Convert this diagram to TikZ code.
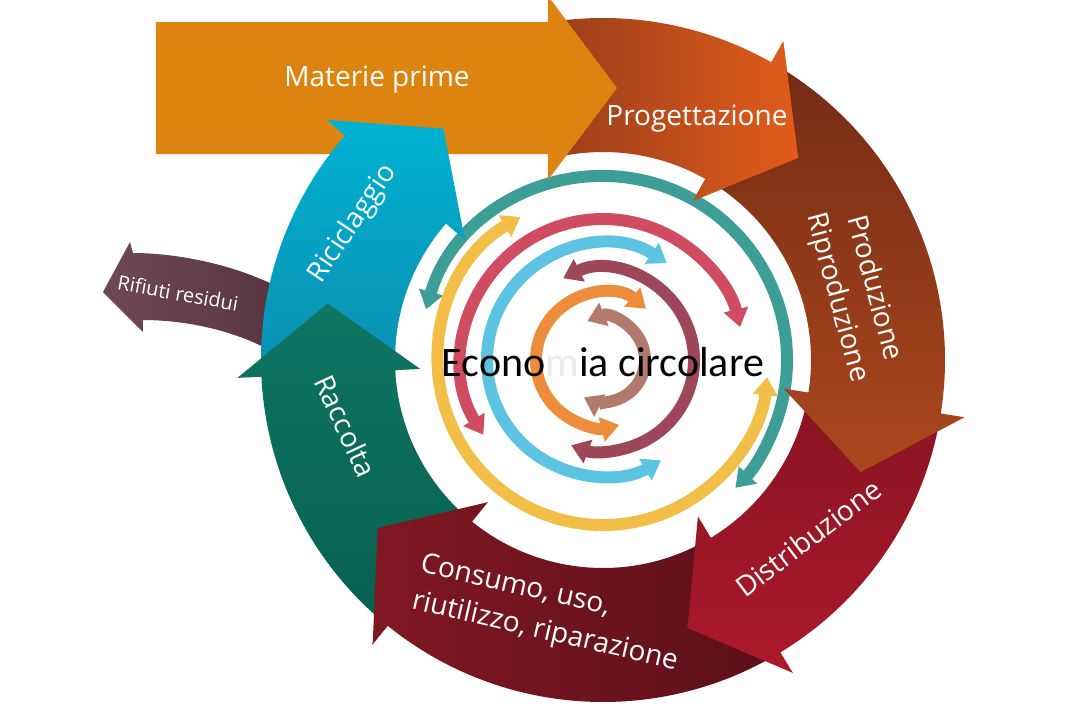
\documentclass[tikz,border=0pt]{standalone}
\usepackage{fontspec}
\setmainfont{Open Sans}
\newfontfamily\calibri{Carlito}
\usetikzlibrary{arrows.meta}

\definecolor{tealc}{RGB}{60,158,150}
\definecolor{yellowc}{RGB}{243,190,72}
\definecolor{redc}{RGB}{208,76,96}
\definecolor{bluec}{RGB}{92,196,226}
\definecolor{mauvec}{RGB}{158,70,90}
\definecolor{orangec}{RGB}{237,140,58}
\definecolor{brownc}{RGB}{178,122,108}
\definecolor{rifl}{RGB}{112,72,84}
\definecolor{rifr}{RGB}{84,52,62}
\definecolor{progl}{RGB}{145,58,28}
\definecolor{progr}{RGB}{226,92,26}
\definecolor{materie}{RGB}{221,132,16}
\definecolor{ricit}{RGB}{0,178,210}
\definecolor{ricib}{RGB}{10,145,178}
\definecolor{racct}{RGB}{14,118,98}
\definecolor{raccb}{RGB}{8,96,80}
\definecolor{consl}{RGB}{128,24,34}
\definecolor{consr}{RGB}{92,16,26}
\definecolor{distt}{RGB}{138,20,34}
\definecolor{distb}{RGB}{172,26,42}
\definecolor{prodt}{RGB}{118,44,22}
\definecolor{prodb}{RGB}{170,72,28}

% tail angle, head angle, tip angle
\newcommand{\ringpart}[3]{(#1:342) arc[start angle=#1,end angle=#2,radius=342] -- (#2:366) -- (#3:281) -- (#2:183) -- (#2:208) arc[start angle=#2,end angle=#1,radius=208] -- cycle}

\begin{document}
\begin{tikzpicture}[x=0.5pt,y=0.5pt,>={Triangle[width=12pt,length=9pt]},
  band/.style={line width=6pt,<->},
  lbl/.style={text=white,font=\fontsize{14}{19}\selectfont}]
\fill[white] (-603,-359) rectangle (475,360);
\useasboundingbox (-603,-359) rectangle (475,360);

\draw[band,tealc] (164:184) arc[start angle=164,end angle=-44,radius=184];
\draw[band,yellowc] (120:165) arc[start angle=120,end angle=354,radius=165];
\draw[band,redc] (212:141) arc[start angle=212,end angle=13.5,radius=141];
\draw[band,bluec] (56.6:116) arc[start angle=56.6,end angle=300,radius=116];
\draw[band,mauvec] (116:91) arc[start angle=116,end angle=-110.5,radius=91];
\draw[band,orangec] (50:67) arc[start angle=50,end angle=284,radius=67];
\draw[band,brownc] (112:42) arc[start angle=112,end angle=-117,radius=42];

\shade[left color=rifl,right color=rifr] (-473,118) -- (-500,68) -- (-460,28) -- (-460,40) .. controls (-415,40) and (-350,28) .. (-303,-10) -- (-303,60) .. controls (-350,92) and (-420,107) .. (-470,107) -- cycle;

\shade[left color=progl,right color=progr] \ringpart{104}{60.5}{46};
\fill[materie] (-447,206) -- (-447,338) -- (-55,338) -- (-55,364) -- (14,272) -- (-55,180) -- (-55,206) -- cycle;
\shade[top color=ricit,bottom color=ricib] \ringpart{180}{139}{124.6};
\shade[top color=racct,bottom color=raccb] \ringpart{228}{182.8}{168.4};
\shade[left color=consl,right color=consr] \ringpart{299}{231}{216.7};
\shade[top color=distt,bottom color=distb] \ringpart{-12}{-58.75}{-72.5};
\shade[top color=prodt,bottom color=prodb] \ringpart{58}{-9}{-23.5};
\begin{scope}
\clip (0,0) -- (60.6:420) -- (30:420) -- cycle;
\shade[left color=progl,right color=progr] \ringpart{104}{60.5}{46};
\end{scope}

\node[lbl] (mp) at (-226,280) {Materie prime};
\node[lbl] (prog) at (94,241) {Progettazione};
\node[lbl,rotate=-75,align=center] (prod) at (252,67) {Produzione\\Riproduzione};
\node[lbl,rotate=37] (dist) at (205,-178) {Distribuzione};
\node[lbl,rotate=-13,align=left] (cons) at (-54,-254) {Consumo, uso,\\riutilizzo, riparazione};
\node[lbl,rotate=-65] (racc) at (-257,-66) {Raccolta};
\node[lbl,rotate=56] (ricic) at (-250,136) {Riciclaggio};
\node[text=white,font=\fontsize{10}{12}\selectfont,rotate=-10] (rifiuti) at (-425,67) {Rifiuti residui};
\node[font=\calibri\fontsize{21}{25}\selectfont] (eco) at (0,-2) {Econo\textcolor{black!8}{m}ia circolare};
\end{tikzpicture}
\end{document}
